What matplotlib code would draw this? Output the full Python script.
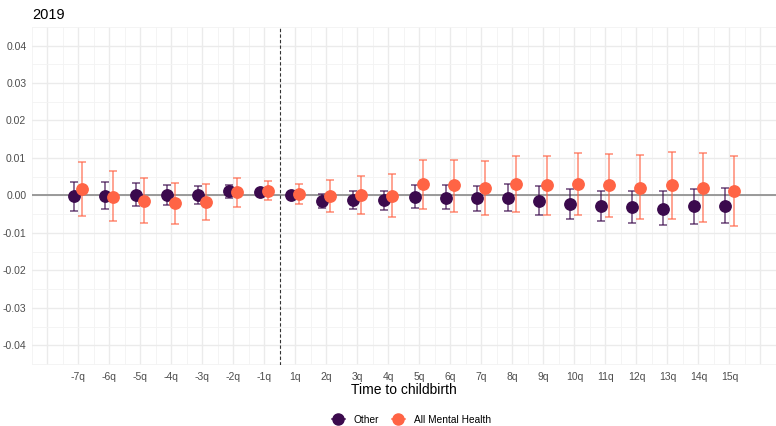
import matplotlib
matplotlib.use("Agg")
import matplotlib.pyplot as plt
import numpy as np
from matplotlib.lines import Line2D

plt.rcParams['font.family'] = ['Liberation Sans', 'DejaVu Sans']

labels = ['-7q', '-6q', '-5q', '-4q', '-3q', '-2q', '-1q', '1q', '2q', '3q', '4q',
          '5q', '6q', '7q', '8q', '9q', '10q', '11q', '12q', '13q', '14q', '15q']

other_est = [-0.0002, -0.0001, 0.0002, 0.0000, 0.0001, 0.0011, 0.0009, 0.0002, -0.0014, -0.0012, -0.0012,
             -0.0004, -0.0006, -0.0008, -0.0006, -0.0014, -0.0022, -0.0028, -0.0031, -0.0035, -0.0029, -0.0027]
other_hi = [0.0037, 0.0035, 0.0032, 0.0029, 0.0025, 0.0028, 0.0012, 0.0005, 0.0004, 0.0013, 0.0011,
            0.0027, 0.0028, 0.0025, 0.0030, 0.0024, 0.0016, 0.0013, 0.0013, 0.0011, 0.0018, 0.0020]
other_lo = [-0.0041, -0.0036, -0.0028, -0.0025, -0.0022, -0.0006, 0.0006, -0.0001, -0.0034, -0.0036, -0.0038,
            -0.0034, -0.0037, -0.0042, -0.0042, -0.0051, -0.0062, -0.0068, -0.0073, -0.0079, -0.0076, -0.0074]

mh_est = [0.0016, -0.0003, -0.0014, -0.0021, -0.0018, 0.0008, 0.0013, 0.0004, -0.0002, 0.0002, -0.0001,
          0.0030, 0.0027, 0.0020, 0.0031, 0.0027, 0.0031, 0.0028, 0.0021, 0.0028, 0.0021, 0.0012]
mh_hi = [0.0088, 0.0064, 0.0046, 0.0033, 0.0031, 0.0047, 0.0038, 0.0030, 0.0040, 0.0052, 0.0057,
         0.0094, 0.0095, 0.0093, 0.0105, 0.0105, 0.0113, 0.0111, 0.0108, 0.0116, 0.0113, 0.0106]
mh_lo = [-0.0056, -0.0068, -0.0075, -0.0076, -0.0067, -0.0031, -0.0013, -0.0024, -0.0045, -0.0050, -0.0059,
         -0.0036, -0.0043, -0.0052, -0.0044, -0.0052, -0.0051, -0.0057, -0.0064, -0.0064, -0.0071, -0.0083]

purple = '#3b0a4d'
orange = '#ff6445'

fig = plt.figure(figsize=(7.76, 4.26), dpi=100)
ax = fig.add_axes([0.041, 0.143, 0.959, 0.794])

x = np.arange(len(labels))
dodge = 0.13

for est, lo, hi, col, off in [(other_est, other_lo, other_hi, purple, -dodge),
                              (mh_est, mh_lo, mh_hi, orange, dodge)]:
    est = np.array(est)
    yerr = [est - np.array(lo), np.array(hi) - est]
    ax.errorbar(x + off, est, yerr=yerr, fmt='none', ecolor=col, alpha=0.75,
                elinewidth=1.1, capsize=2.6, capthick=1.1, zorder=3)
    ax.plot(x + off, est, 'o', color=col, markersize=8.2, zorder=4)

ax.axhline(0, color='#8a8a8a', lw=1.2, zorder=2)
ax.axvline(6.5, color='#333333', lw=0.8, ls=(0, (3, 2)), zorder=2)

ax.set_xlim(-1.29, 22.2)
ax.set_ylim(-0.0453, 0.0448)
ax.set_xticks(np.arange(-1, 23))
ax.set_xticklabels([''] + labels + [''])
ax.set_xticks(np.arange(-1.5, 23, 1), minor=True)
ax.set_yticks(np.arange(-0.04, 0.041, 0.01))
ax.set_yticklabels(['%.2f' % v for v in np.arange(-0.04, 0.041, 0.01)])
ax.set_yticks(np.arange(-0.045, 0.046, 0.01), minor=True)

ax.grid(which='major', color='#ebebeb', lw=1.0, zorder=0)
ax.grid(which='minor', color='#f3f3f3', lw=0.6, zorder=0)
ax.tick_params(which='both', length=0, labelsize=7.5, labelcolor='#4d4d4d')
ax.tick_params(axis='y', pad=4)
ax.tick_params(axis='x', pad=5)
for s in ax.spines.values():
    s.set_visible(False)
ax.set_axisbelow(True)

ax.set_xlabel('Time to childbirth', fontsize=10, labelpad=1)
fig.text(0.041, 0.955, '2019', fontsize=10.5, ha='left', va='baseline')

handles = [Line2D([], [], color=purple, marker='o', markersize=8, lw=1.1),
           Line2D([], [], color=orange, marker='o', markersize=8, lw=1.1)]
fig.legend(handles, ['Other', 'All Mental Health'], loc='center', ncol=2,
           bbox_to_anchor=(0.53, 0.014), frameon=False, fontsize=7.3,
           handlelength=1.3, columnspacing=1.2, handletextpad=0.9,
           borderpad=0.1)

fig.savefig('out.png', dpi=100)
